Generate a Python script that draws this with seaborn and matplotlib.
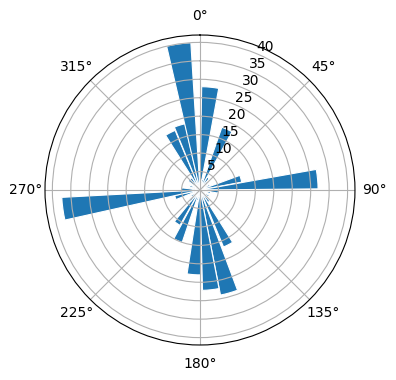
import numpy as np
import matplotlib
matplotlib.use("Agg")
import matplotlib.pyplot as plt
import seaborn as sns

# bar directions (degrees, clockwise from north) and bar heights
directions = [5.7, 15, 24, 34, 44, 54, 64, 74.6, 84.7, 95, 105, 115, 125, 135,
              143, 152.8, 164.2, 173.8, 184, 194, 203.5, 214.3, 224, 234, 244,
              253, 262.2, 272, 282, 292, 302, 312, 322, 332.6, 342.6, 351.7]
counts = [28, 3, 18, 4, 3, 2, 3, 11.5, 32, 5, 3, 2, 3, 2,
          4, 16.7, 29, 27.2, 23, 3, 15, 11, 4, 3, 2,
          7, 37.5, 5, 2, 3, 2, 4, 4, 17.5, 18.4, 40]

bar_color = sns.color_palette()[0]

fig = plt.figure(figsize=(3.96, 3.80), dpi=100)
ax = fig.add_axes([0.1136, 0.0921, 0.7828, 0.8158], projection="polar")
ax.set_theta_zero_location("N")
ax.set_theta_direction(-1)
ax.bar(np.deg2rad(directions), counts, width=np.deg2rad(9.5),
       color=bar_color, edgecolor="white", linewidth=0.8)
fig.savefig("out.png", dpi=100)
